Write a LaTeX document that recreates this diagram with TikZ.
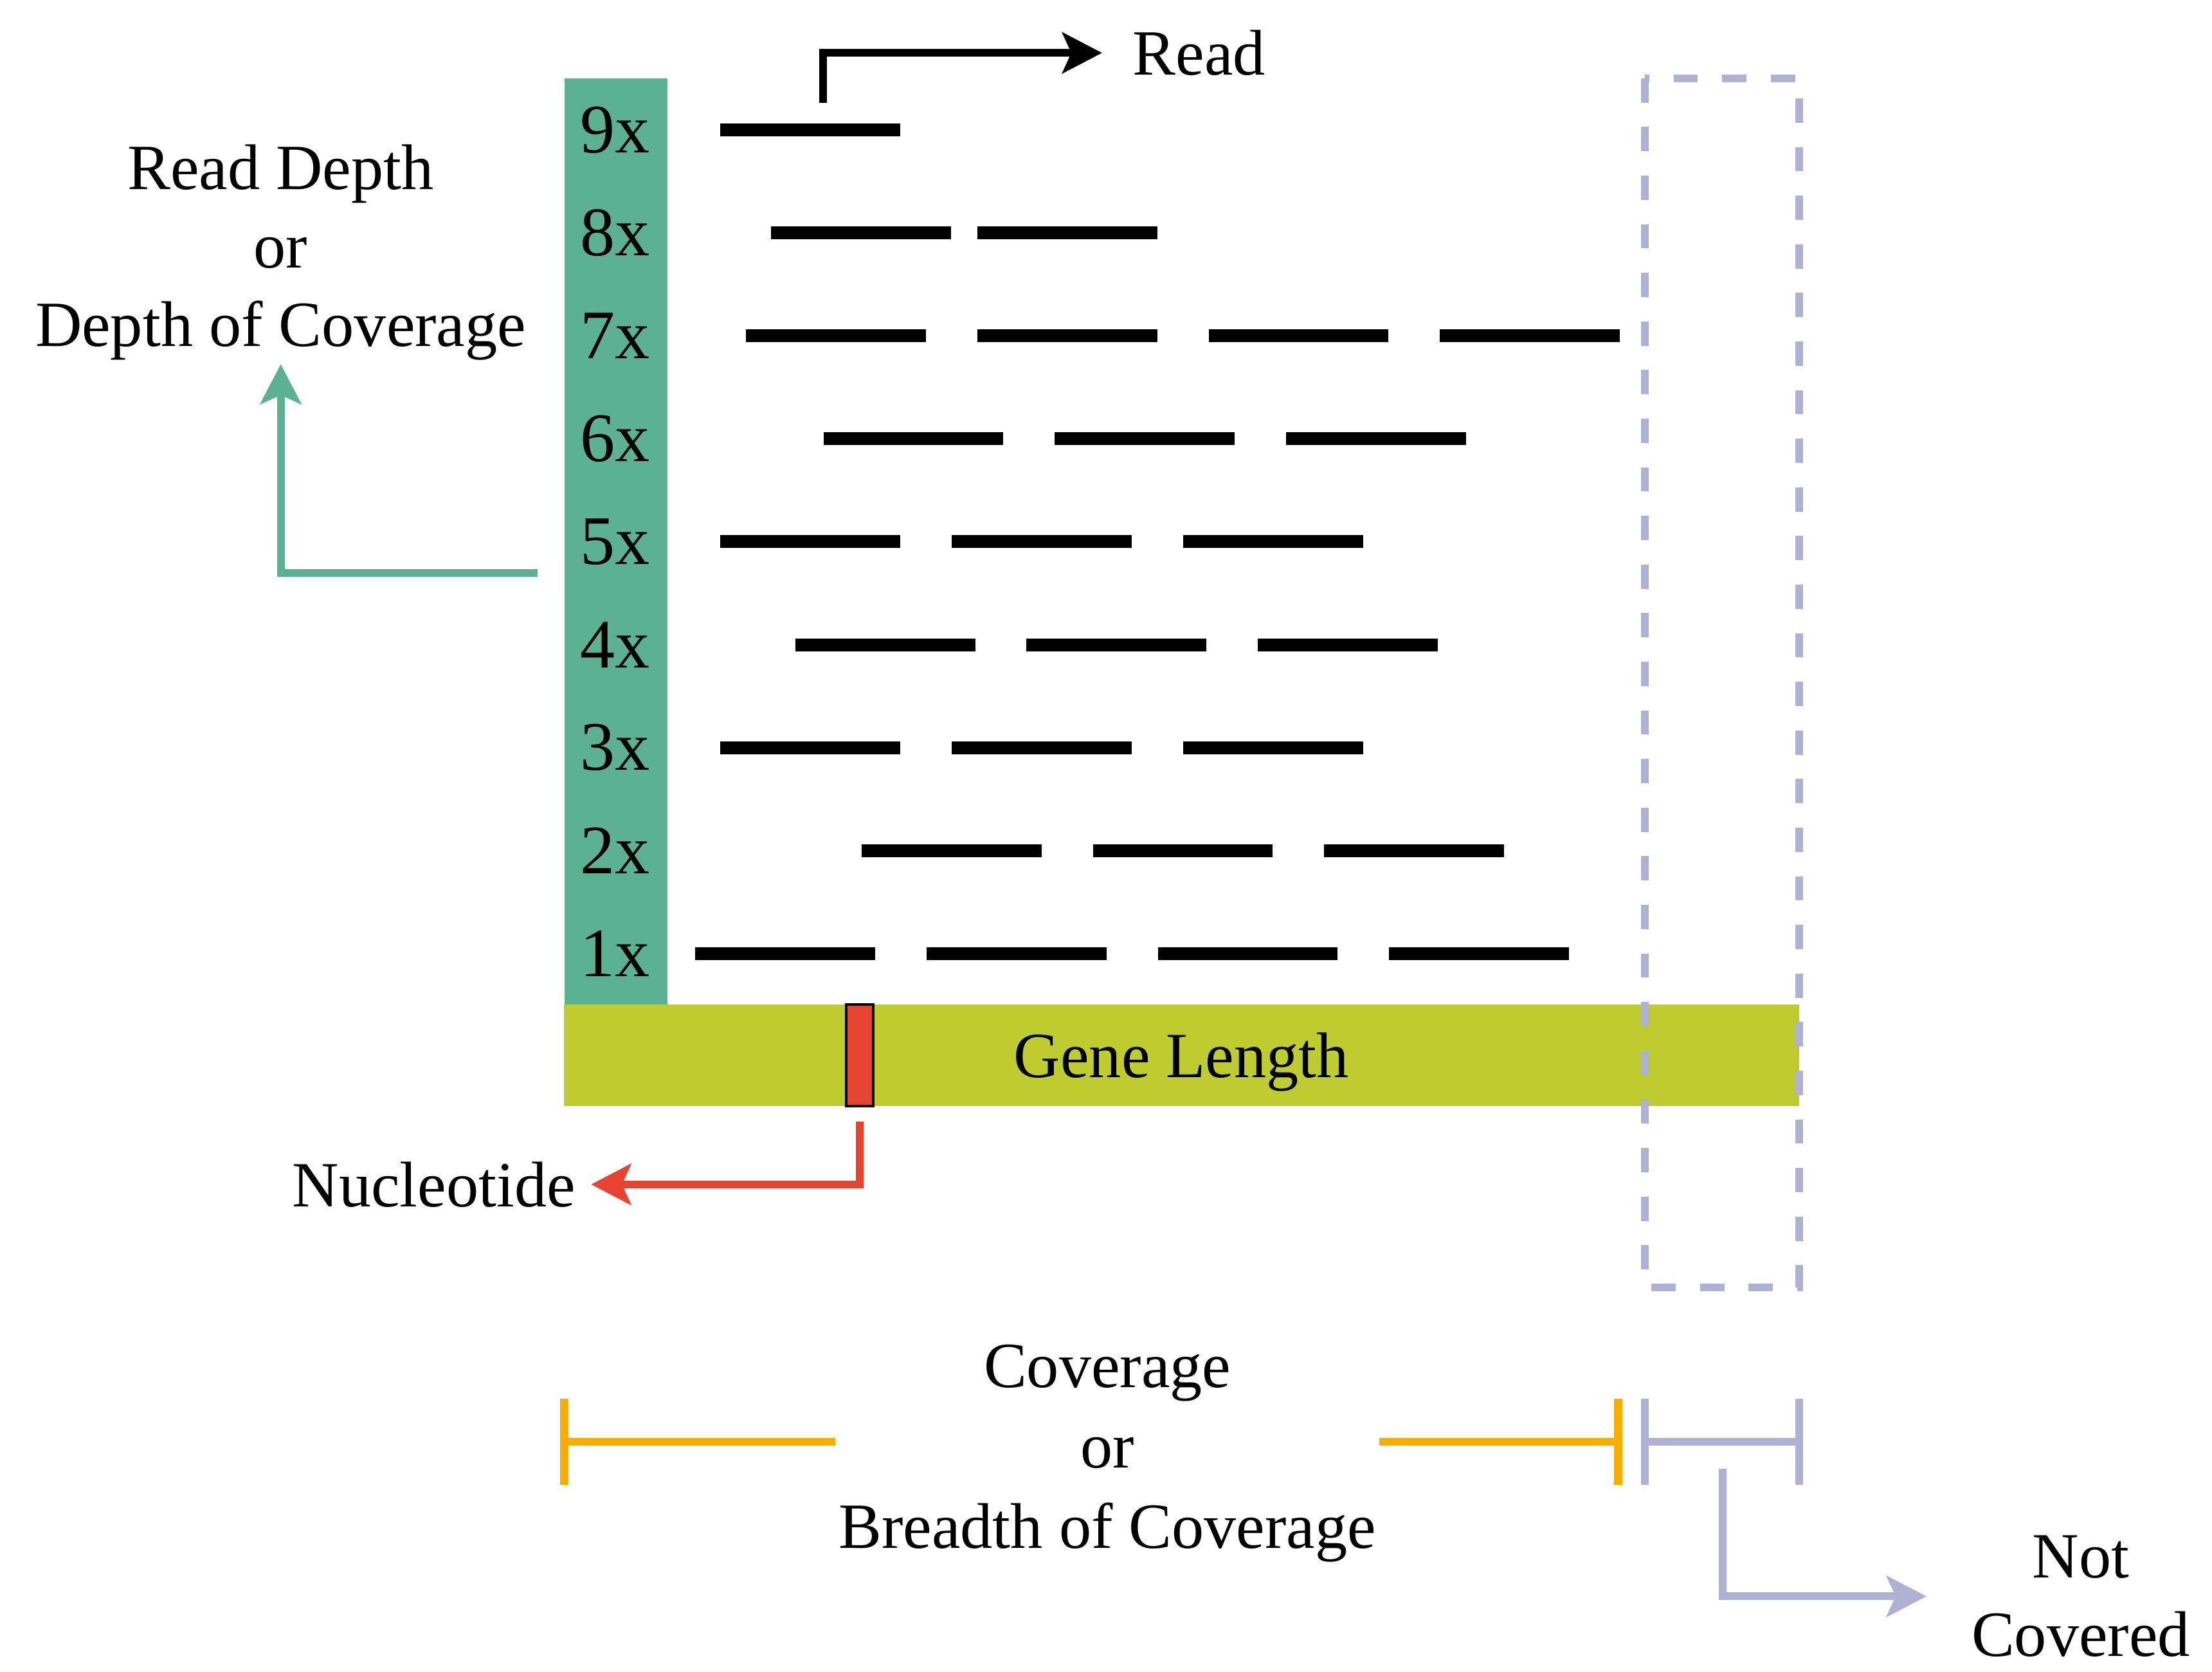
\documentclass[tikz,border=0pt]{standalone}
\usepackage{fontspec}
\setmainfont{Liberation Serif}
\usetikzlibrary{arrows.meta}
\definecolor{depthgreen}{RGB}{92,177,148}
\definecolor{genegreen}{RGB}{190,204,47}
\definecolor{nucred}{RGB}{230,67,48}
\definecolor{lavender}{RGB}{174,177,212}
\definecolor{bracketorange}{RGB}{248,174,0}
\begin{document}
\begin{tikzpicture}[x=0.01cm,y=-0.01cm,
        txt/.style={inner sep=0pt,align=center,font=\fontsize{13}{15.8}\selectfont},
        depthlabel/.style={inner sep=0pt,font=\fontsize{14}{16}\selectfont},
        readbar/.style={fill=black,inner sep=0pt,anchor=west,minimum width=1.275cm,minimum height=0.091cm},
        pointer/.style={line width=1.55pt,-{Stealth[length=8pt,width=8.2pt,inset=1.8pt]}},
        bracket/.style={line width=1.6pt}]
    \useasboundingbox (0,0) rectangle (1568,1185);

    \node[fill=depthgreen,inner sep=0pt,minimum width=0.73cm,minimum height=6.56cm] (depthbar) at (436.5,384) {};
    \foreach \n in {1,...,9} {
        \node[depthlabel] (d\n) at (436,{676-73*(\n-1)}) {\n x};
    }
    \foreach \r/\y/\xs in {9/92/{510},8/165/{546,692},7/238/{528,692,856,1020},
            6/311/{583,747,911},5/384/{510,674,838},4/457/{563,727,891},
            3/530/{510,674,838},2/603/{610,774,938},1/676/{492,656,820,984}} {
        \foreach \x [count=\k] in \xs {
            \node[readbar] (r\r-\k) at (\x,\y) {};
        }
    }

    \node[fill=genegreen,minimum width=8.75cm,minimum height=0.72cm,txt,text depth=0pt] (gene) at (837.5,748) {Gene Length};
    \node[fill=nucred,draw=black,line width=0.5pt,inner sep=0pt,minimum width=0.19cm,minimum height=0.72cm] (nuc) at (609.5,748) {};
    \draw[lavender,line width=1.55pt,dash pattern=on 4.9pt off 4.9pt] (1166,55.5) rectangle (1275.5,912.5);

    \node[txt] (readlbl) at (850,37.5) {Read};
    \node[txt] (depthlbl) at (199,179) {Read Depth\\or\\Depth of Coverage};
    \node[txt] (nuclbl) at (307.5,839.5) {Nucleotide};
    \node[txt,font=\fontsize{13}{16.2}\selectfont] (covlbl) at (785,1030) {Coverage\\or\\Breadth of Coverage};
    \node[txt] (nclbl) at (1475,1131.5) {Not\\Covered};

    \draw[pointer,shorten >=6pt] ([xshift=0.0875cm,yshift=0.1375cm]r9-1.north) |- (readlbl.west);
    \draw[pointer,depthgreen,shorten >=0.6pt] ([xshift=-0.18cm,yshift=-0.22cm]depthbar.west) -| (depthlbl.south);
    \draw[pointer,nucred,shorten >=3pt] ([yshift=-0.1cm]nuc.south) |- (nuclbl.east);

    \coordinate (covL) at (400,1022);
    \coordinate (covR) at (1147,1022);
    \coordinate (ncL) at (1166,1022);
    \coordinate (ncR) at (1275.5,1022);
    \coordinate (ncdrop) at (1221,1041);
    \draw[bracket,bracketorange] ([yshift=0.305cm]covL) -- ([yshift=-0.305cm]covL);
    \draw[bracket,bracketorange] ([yshift=0.305cm]covR) -- ([yshift=-0.305cm]covR);
    \draw[bracket,bracketorange,shorten >=0.5pt] (covL) -- (covL -| covlbl.west);
    \draw[bracket,bracketorange,shorten >=0.5pt] (covR) -- (covR -| covlbl.east);
    \draw[bracket,lavender] ([yshift=0.305cm]ncL) -- ([yshift=-0.305cm]ncL);
    \draw[bracket,lavender] ([yshift=0.305cm]ncR) -- ([yshift=-0.305cm]ncR);
    \draw[bracket,lavender] (ncL) -- (ncR);
    \draw[pointer,lavender,shorten >=8.9pt] (ncdrop) |- (nclbl.west);
\end{tikzpicture}
\end{document}
